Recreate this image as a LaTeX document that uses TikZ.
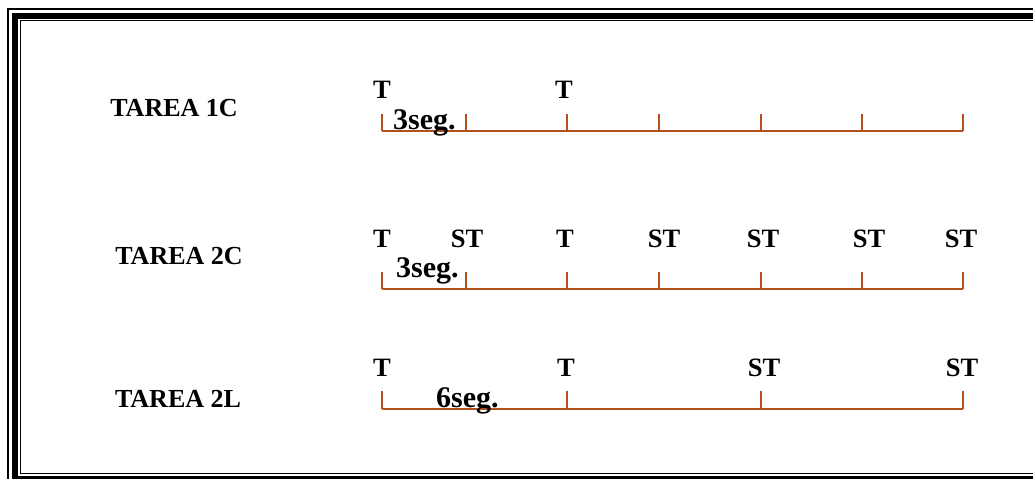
\documentclass[tikz,border=0pt]{standalone}
\usepackage{fontspec}
\setmainfont{Liberation Serif}
\usepackage{tikz}
\usetikzlibrary{positioning}
\definecolor{ejecolor}{RGB}{180,80,30}
\tikzstyle{tarea} = [anchor=base, text=black, inner sep=0pt,
font=\bfseries\fontsize{26}{26}\selectfont]
\tikzstyle{marca} = [anchor=base, text=black, inner sep=0pt,
font=\bfseries\fontsize{26.5}{26.5}\selectfont]
\tikzstyle{tiempo} = [anchor=base west, text=black, inner sep=0pt,
font=\bfseries\fontsize{30}{30}\selectfont]
\tikzstyle{eje} = [draw=ejecolor, line width=1.8pt]

\begin{document}
\begin{tikzpicture}[x=1pt, y=-1pt]
\useasboundingbox (0,0) rectangle (1033,479);

% marco doble
\draw[line width=1.3pt] (8,9) rectangle (1052,486);
\draw[line width=6pt] (15,15.5) rectangle (1045,479);
\draw[line width=1pt] (20,20.5) rectangle (1040,473);

% tareas
\node[tarea] (t1c) at (174,116) {TAREA 1C};
\node[tarea] (t2c) at (179,264) {TAREA 2C};
\node[tarea] (t2l) at (178,407) {TAREA 2L};

% TAREA 1C =============================
\foreach \x [count=\i] in {382,466,567,659,761,862,963}{
  \coordinate (a\i) at (\x,131);
  \draw[eje] (a\i) -- ++(0,-17);
}
\draw[eje] (a1) -- (a7);
\node[marca] (a1t) at (382,98) {T};
\node[marca] (a3t) at (564,98) {T};
\node[tiempo] (a1s) at (393,129) {3seg.};

% TAREA 2C =============================
\foreach \x [count=\i] in {382,466,567,659,761,862,963}{
  \coordinate (b\i) at (\x,289);
  \draw[eje] (b\i) -- ++(0,-17);
}
\draw[eje] (b1) -- (b7);
\node[marca] (b1t) at (382,247) {T};
\node[marca] (b2t) at (467,247) {ST};
\node[marca] (b3t) at (565,247) {T};
\node[marca] (b4t) at (664,247) {ST};
\node[marca] (b5t) at (763,247) {ST};
\node[marca] (b6t) at (869,247) {ST};
\node[marca] (b7t) at (961,247) {ST};
\node[tiempo] (b1s) at (396,277) {3seg.};

% TAREA 2L =============================
\foreach \x [count=\i] in {382,567,761,963}{
  \coordinate (c\i) at (\x,409);
  \draw[eje] (c\i) -- ++(0,-18);
}
\draw[eje] (c1) -- (c4);
\node[marca] (c1t) at (382,376) {T};
\node[marca] (c2t) at (566,376) {T};
\node[marca] (c3t) at (764,376) {ST};
\node[marca] (c4t) at (962,376) {ST};
\node[tiempo] (c1s) at (436,407) {6seg.};

\end{tikzpicture}
\end{document}
